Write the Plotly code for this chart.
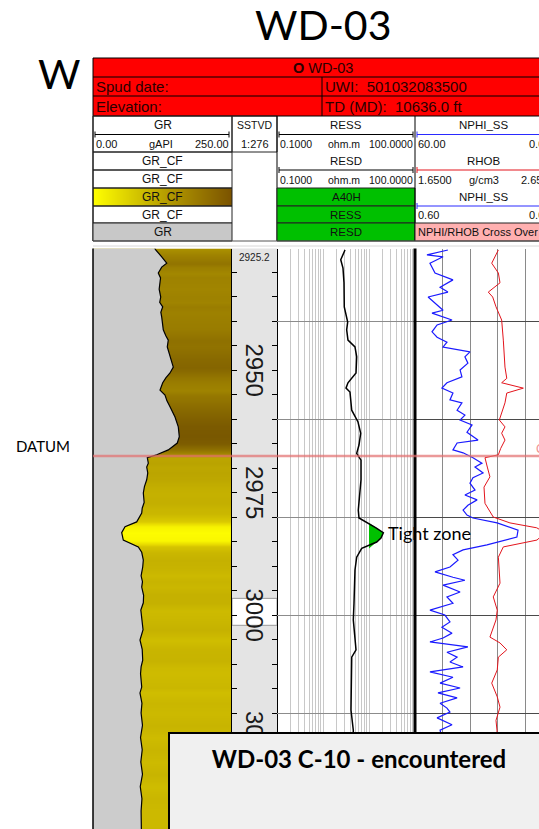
import plotly.graph_objects as go
import math

W, H = 539, 829

# ---------------- data ----------------
TRACK_TOP = 2925.2
TRACK_BOTTOM = 3043.67
GRID_DEPTHS = [2940, 2960, 2980, 3000, 3020, 3040]
DEPTH_LABELS = [2950, 2975, 3000, 3025]
DATUM_DEPTH = 2967.55
RES_CUTOFF = 10
CURSOR_DEPTHS = [2996.6, 3002.1]

GR_DEPTH = [2925.2, 2925.5, 2926.9, 2928.2, 2929.0, 2930.2, 2931.2, 2932.2, 2933.5, 2935.1,
            2936.2, 2937.1, 2938.2, 2939.2, 2940.5, 2941.8, 2943.0, 2943.9, 2945.3, 2946.5,
            2947.9, 2949.4, 2950.6, 2951.6, 2952.6, 2954.1, 2955.1, 2956.3, 2957.5, 2959.6,
            2961.6, 2963.6, 2964.9, 2966.3, 2967.3, 2967.9, 2969.0, 2969.8, 2971.0, 2972.4,
            2973.8, 2975.1, 2977.0, 2978.2, 2979.2, 2981.0, 2982.0, 2983.2, 2984.7, 2986.1,
            2987.2, 2988.8, 2990.2, 2992.0, 2993.2, 2994.3, 2996.0, 2997.5, 2999.0, 3001.0,
            3003.0, 3005.1, 3007.0, 3009.2, 3010.6, 3012.0, 3014.7, 3015.9, 3018.0, 3020.0,
            3022.5, 3025.0, 3027.5, 3030.0, 3032.5, 3035.0, 3037.5, 3040.0, 3043.7]
GR_VALUES = [111.0, 112.8, 123.6, 132.6, 123.6, 117.4, 121.5, 120.5, 119.0, 121.8,
             120.0, 125.4, 122.0, 123.6, 125.0, 126.4, 131.0, 135.4, 133.6, 137.0,
             141.5, 144.4, 138.5, 131.0, 125.4, 120.5, 129.5, 133.0, 138.5, 147.5,
             153.4, 155.2, 151.6, 135.4, 114.6, 97.7, 99.5, 96.6, 98.5, 96.6,
             92.5, 90.5, 92.0, 88.5, 87.6, 78.6, 57.6, 51.6, 54.5, 81.5,
             87.6, 90.5, 89.4, 86.5, 89.0, 87.6, 91.0, 90.5, 86.0, 87.6,
             90.0, 84.5, 88.5, 89.4, 86.5, 85.5, 87.6, 84.5, 88.0, 86.5,
             89.0, 85.5, 88.5, 86.0, 89.0, 85.0, 88.0, 86.5, 87.0]

RES_DEPTH = [2925.5, 2927.5, 2929.2, 2932.2, 2937.1, 2940.2, 2941.8, 2943.9, 2945.3, 2947.3,
             2950.6, 2952.6, 2953.7, 2954.5, 2958.2, 2960.6, 2962.9, 2965.3, 2967.0, 2968.4,
             2972.4, 2974.5, 2978.6, 2980.2, 2981.2, 2982.2, 2983.2, 2984.3, 2985.1, 2986.4,
             2988.2, 2990.8, 2997.6, 3001.0, 3007.1, 3008.6, 3019.4, 3023.5, 3032.0, 3043.7]
RES_VALUES = [3.01, 2.43, 2.72, 2.86, 2.90, 3.44, 3.27, 3.49, 4.96, 5.40,
              5.22, 3.49, 3.16, 3.86, 4.21, 5.77, 6.60, 6.06, 5.40, 6.70,
              6.70, 6.37, 5.85, 6.06, 9.51, 14.2, 20.5, 18.2, 14.7, 6.94,
              5.40, 4.96, 4.72, 4.56, 5.22, 4.21, 4.06, 4.56, 4.4, 4.5]

NPHI_DEPTH = [2925.5, 2926.5, 2926.9, 2928.2, 2930.2, 2931.6, 2933.1, 2934.1, 2935.1, 2936.3,
              2937.8, 2938.4, 2939.8, 2940.8, 2942.2, 2943.3, 2944.3, 2945.3, 2946.3, 2947.3,
              2948.6, 2950.0, 2951.4, 2952.6, 2953.7, 2954.7, 2956.1, 2956.7, 2958.2, 2959.2,
              2960.2, 2961.2, 2962.7, 2964.3, 2964.9, 2966.3, 2966.9, 2967.9, 2969.0, 2969.8,
              2971.0, 2972.0, 2973.1, 2974.5, 2975.5, 2976.5, 2977.6, 2978.6, 2979.6, 2980.2,
              2981.2, 2982.7, 2984.1, 2985.7, 2986.7, 2987.7, 2988.8, 2990.2, 2991.2, 2992.3,
              2992.9, 2993.9, 2995.3, 2996.3, 2997.6, 2999.0, 3000.0, 3001.4, 3002.5, 3003.7,
              3004.7, 3005.5, 3006.5, 3007.6, 3008.6, 3009.6, 3010.6, 3011.6, 3012.7, 3013.9,
              3014.9, 3015.9, 3016.9, 3018.0, 3019.0, 3019.8, 3021.0, 3022.4, 3023.5, 3030.0,
              3043.7]
NPHI_VALUES = [45.7, 54.8, 47.8, 53.5, 51.3, 43.5, 49.1, 45.7, 54.3, 51.3,
               47.8, 52.6, 43.9, 50.4, 52.6, 50.4, 46.1, 47.8, 36.1, 38.3,
               37.0, 40.4, 39.6, 46.1, 48.3, 43.5, 44.8, 39.6, 41.7, 38.3,
               40.4, 35.2, 37.4, 32.6, 41.7, 43.5, 39.1, 34.8, 30.9, 33.9,
               30.4, 34.8, 36.1, 33.9, 38.3, 33.0, 37.0, 39.1, 37.4, 34.8,
               24.3, 15.2, 15.7, 28.7, 39.1, 43.5, 41.3, 44.8, 51.3, 43.5,
               38.3, 47.8, 40.4, 46.1, 43.5, 53.5, 47.0, 44.8, 48.3, 43.9,
               47.8, 53.5, 37.0, 46.1, 41.7, 44.8, 39.1, 53.5, 43.5, 49.1,
               40.4, 50.0, 41.7, 49.1, 46.1, 44.8, 50.4, 43.9, 49.1, 46.0,
               48.0]

RHOB_DEPTH = [2925.5, 2928.2, 2930.2, 2932.2, 2934.1, 2935.1, 2937.1, 2939.8, 2943.9, 2949.4,
              2951.7, 2952.6, 2953.7, 2954.7, 2956.7, 2960.2, 2961.6, 2962.9, 2964.3, 2966.0,
              2967.3, 2967.9, 2969.8, 2971.8, 2973.9, 2977.2, 2980.0, 2981.2, 2982.2, 2983.2,
              2984.7, 2986.1, 2988.2, 2990.8, 2993.5, 2996.3, 2999.0, 3001.0, 3004.5, 3005.7,
              3007.1, 3008.6, 3011.2, 3013.9, 3016.7, 3018.8, 3021.5, 3023.5, 3032.0, 3043.7]
RHOB_VALUES = [2.254, 2.206, 2.254, 2.266, 2.181, 2.213, 2.237, 2.278, 2.290, 2.302,
               2.315, 2.278, 2.435, 2.315, 2.302, 2.261, 2.302, 2.278, 2.302, 2.271,
               2.254, 2.157, 2.174, 2.193, 2.150, 2.157, 2.217, 2.338, 2.532, 2.592,
               2.534, 2.290, 2.254, 2.261, 2.266, 2.217, 2.246, 2.237, 2.193, 2.266,
               2.315, 2.254, 2.246, 2.206, 2.246, 2.266, 2.237, 2.244, 2.25, 2.24]

GR_RANGE = [0, 250]
RES_RANGE = [0.1, 100]
NPHI_RANGE = [60, 0]
RHOB_RANGE = [1.65, 2.65]

# ---------------- layout helpers ----------------
def PX(x):
    return x / W


def PY(y):
    return 1 - y / H


TRACK_Y0 = 248.5
GR_X = (93, 232)
DEPTH_X = (232, 277)
RES_X = (277, 415)
NPHI_X = (415, 553)

# visible part of the NPHI track is clipped at the page edge
nphi_frac = (W - NPHI_X[0]) / (NPHI_X[1] - NPHI_X[0])
nphi_vis = [NPHI_RANGE[0], NPHI_RANGE[0] + (NPHI_RANGE[1] - NPHI_RANGE[0]) * nphi_frac]
rhob_vis = [RHOB_RANGE[0], RHOB_RANGE[0] + (RHOB_RANGE[1] - RHOB_RANGE[0]) * nphi_frac]

fig = go.Figure()

# GR colour fill (heatmap coloured by GR value)
gr_colorscale = [[0.0, "#ffff00"], [0.2, "#e6d800"], [0.364, "#c6b200"],
                 [0.636, "#a08400"], [1.0, "#745200"]]
fig.add_trace(go.Heatmap(
    x=[-10, 260], y=GR_DEPTH, z=[[v, v] for v in GR_VALUES],
    colorscale=gr_colorscale, zmin=50, zmax=160, zsmooth="best",
    showscale=False, hoverinfo="skip", xaxis="x", yaxis="y"))
# grey fill left of GR curve
fig.add_trace(go.Scatter(x=[GR_RANGE[0]] * len(GR_DEPTH), y=GR_DEPTH, mode="lines",
                         line=dict(width=0, color="#cccccc"), hoverinfo="skip",
                         xaxis="x", yaxis="y"))
fig.add_trace(go.Scatter(x=GR_VALUES, y=GR_DEPTH, mode="lines", fill="tonextx",
                         fillcolor="#cccccc", line=dict(color="black", width=1.2),
                         hoverinfo="skip", xaxis="x", yaxis="y"))

# resistivity tight-zone fill
idx = [i for i, v in enumerate(RES_VALUES) if v > RES_CUTOFF]
i0, i1 = max(idx[0] - 1, 0), min(idx[-1] + 1, len(RES_VALUES) - 1)
zone_d = RES_DEPTH[i0:i1 + 1]
zone_v = [max(v, RES_CUTOFF) for v in RES_VALUES[i0:i1 + 1]]
fig.add_trace(go.Scatter(x=[RES_CUTOFF] * len(zone_d), y=zone_d, mode="lines",
                         line=dict(width=0, color="#00c000"), hoverinfo="skip",
                         xaxis="x3", yaxis="y3"))
fig.add_trace(go.Scatter(x=zone_v, y=zone_d, mode="lines", fill="tonextx",
                         fillcolor="#00c000", line=dict(width=0, color="#00c000"),
                         hoverinfo="skip", xaxis="x3", yaxis="y3"))
fig.add_trace(go.Scatter(x=RES_VALUES, y=RES_DEPTH, mode="lines",
                         line=dict(color="black", width=1.5), hoverinfo="skip",
                         xaxis="x3", yaxis="y3"))

# NPHI / RHOB
fig.add_trace(go.Scatter(x=NPHI_VALUES, y=NPHI_DEPTH, mode="lines",
                         line=dict(color="#1a1aff", width=1.2), hoverinfo="skip",
                         xaxis="x4", yaxis="y4"))
fig.add_trace(go.Scatter(x=RHOB_VALUES, y=RHOB_DEPTH, mode="lines",
                         line=dict(color="#e3141c", width=1), hoverinfo="skip",
                         xaxis="x5", yaxis="y4"))

# header gradient cell (GR_CF colour bar)
grad_z = [[i / 20 for i in range(21)]]
fig.add_trace(go.Heatmap(z=grad_z, x=[i / 20 for i in range(21)], y=[0],
                         colorscale=[[0, "#ffff00"], [0.5, "#b8a000"], [1, "#7a5200"]],
                         zsmooth="best", showscale=False, hoverinfo="skip",
                         xaxis="x6", yaxis="y6"))

ydom = [0, PY(TRACK_Y0)]
yrange = [TRACK_BOTTOM, TRACK_TOP]
res_ticks = [m * 10 ** e for e in (-1, 0, 1) for m in range(1, 10)] + [100]
hidden = dict(showticklabels=False, ticks="", zeroline=False, showline=False)

fig.update_layout(
    width=W, height=H, margin=dict(l=0, r=0, t=0, b=0),
    paper_bgcolor="white", plot_bgcolor="rgba(0,0,0,0)", showlegend=False,
    hovermode=False,
    xaxis=dict(domain=[PX(GR_X[0]), PX(GR_X[1])], range=GR_RANGE, anchor="y",
               showgrid=False, **hidden),
    yaxis=dict(domain=ydom, range=yrange, anchor="x", showgrid=False, **hidden),
    xaxis2=dict(domain=[PX(DEPTH_X[0]), PX(DEPTH_X[1])], range=[0, 1], anchor="y2",
                showgrid=False, **hidden),
    yaxis2=dict(domain=ydom, range=yrange, anchor="x2", showgrid=False,
                showticklabels=False, ticks="inside", ticklen=5, tickwidth=1,
                tickcolor="black", tickmode="linear", tick0=2925, dtick=5,
                showline=True, linecolor="black", linewidth=1, mirror="ticks",
                zeroline=False),
    xaxis3=dict(domain=[PX(RES_X[0]), PX(RES_X[1])], type="log",
                range=[math.log10(RES_RANGE[0]), math.log10(RES_RANGE[1])],
                anchor="y3", tickmode="array", tickvals=res_ticks, showgrid=True,
                gridcolor="#c8c8c8", gridwidth=1.2, **hidden),
    yaxis3=dict(domain=ydom, range=yrange, anchor="x3", tickmode="array",
                tickvals=GRID_DEPTHS, showgrid=True, gridcolor="#8c8c8c",
                gridwidth=1.3, **hidden),
    xaxis4=dict(domain=[PX(NPHI_X[0]), 1], range=nphi_vis, anchor="y4",
                tickmode="linear", tick0=0, dtick=12, showgrid=True,
                gridcolor="#8a8a8a", gridwidth=1.3, **hidden),
    yaxis4=dict(domain=ydom, range=yrange, anchor="x4", tickmode="array",
                tickvals=GRID_DEPTHS, showgrid=True, gridcolor="#4a4a4a",
                gridwidth=1.4, **hidden),
    xaxis5=dict(domain=[PX(NPHI_X[0]), 1], range=rhob_vis, anchor="y4",
                overlaying="x4", showgrid=False, **hidden),
    xaxis6=dict(domain=[PX(GR_X[0]), PX(GR_X[1])], range=[0, 1], anchor="y6",
                showgrid=False, **hidden),
    yaxis6=dict(domain=[PY(206), PY(188)], range=[-0.5, 0.5], anchor="x6",
                showgrid=False, **hidden),
)

shapes = []


def rect(x0, y0, x1, y1, fill=None, line="#222222", lw=1, layer="above"):
    shapes.append(dict(type="rect", xref="paper", yref="paper",
                       x0=PX(x0), x1=PX(x1), y0=PY(y0), y1=PY(y1),
                       fillcolor=fill or "rgba(0,0,0,0)",
                       line=dict(color=line, width=lw) if line else dict(width=0),
                       layer=layer))


def hline(x0, x1, y, color="black", lw=1):
    shapes.append(dict(type="line", xref="paper", yref="paper", x0=PX(x0), x1=PX(x1),
                       y0=PY(y), y1=PY(y), line=dict(color=color, width=lw)))


def vline(x, y0, y1, color="black", lw=1):
    shapes.append(dict(type="line", xref="paper", yref="paper", x0=PX(x), x1=PX(x),
                       y0=PY(y0), y1=PY(y1), line=dict(color=color, width=lw)))


# depth track background and cursor box
shapes.append(dict(type="rect", xref="x2 domain", yref="y2 domain", x0=0, x1=1, y0=0, y1=1,
                   fillcolor="#e4e4e4", line=dict(width=0), layer="below"))
shapes.append(dict(type="rect", xref="x2 domain", yref="y2", x0=0, x1=1,
                   y0=CURSOR_DEPTHS[0], y1=CURSOR_DEPTHS[1], fillcolor="white",
                   line=dict(color="#9a9a9a", width=1), layer="below"))

# header: red block
rect(93, 58, 560, 116, fill="#ff0000", line=None)
for y in (58, 77, 96, 116):
    hline(93, 560, y)
vline(322, 77, 116)
vline(93, 58, 241)
# GR column cells
rect(93, 116, 232, 152)
rect(93, 152, 232, 170)
rect(93, 170, 232, 188)
rect(93, 206, 232, 223)
rect(93, 223, 232, 241, fill="#c8c8c8")
rect(93, 188, 232, 206)
rect(232, 116, 277, 152)
# RES column
vline(277, 116, 241)
rect(277, 188, 415, 206, fill="#00c000")
rect(277, 206, 415, 223, fill="#00c000")
rect(277, 223, 415, 241, fill="#00c000")
# NPHI column
vline(415, 116, 241)
rect(415, 223, 560, 241, fill="#ffb0b0")
hline(93, 560, 241, color="#555555")
# scale lines
hline(95, 229, 134.5)
vline(95, 131.5, 137.5)
vline(229, 131.5, 137.5)
hline(279, 413, 134.5)
vline(279, 131.5, 137.5)
vline(413, 131.5, 137.5)
hline(279, 413, 170)
vline(279, 167, 173)
vline(413, 167, 173)
hline(417, 560, 134.5, color="#2a2aff")
vline(417, 131.5, 137.5, color="#2a2aff")
hline(417, 560, 170, color="#e3141c")
vline(417, 167, 173, color="#e3141c")
hline(417, 560, 206, color="#2a2aff")
vline(417, 203, 209, color="#2a2aff")

# track borders
vline(93, TRACK_Y0, H, lw=1.5)
vline(415, TRACK_Y0, H, lw=3)
hline(93, 560, 246, color="#d8d8d8", lw=1)

# datum line
shapes.append(dict(type="line", xref="paper", yref="y", x0=PX(93), x1=1,
                   y0=DATUM_DEPTH, y1=DATUM_DEPTH,
                   line=dict(color="rgba(226,110,110,0.7)", width=2.5)))

fig.update_layout(shapes=shapes)

ann = []
HF = "Liberation Sans, Arial, sans-serif"
CF = "Lato, Carlito, sans-serif"


def txt(x, y, s, size=11, xa="center", color="#111111", family=HF, **kw):
    ann.append(dict(x=PX(x), y=PY(y), xref="paper", yref="paper", text=s, showarrow=False,
                    xanchor=xa, yanchor="middle", font=dict(size=size, color=color,
                                                            family=family), **kw))


# titles
txt(323, 24, "WD-03", size=41, family=CF, color="black")
txt(59, 73, "W", size=41, family=CF, color="black")
txt(43, 446, "DATUM", size=15, family=CF, color="black")

# red header text
RC = "#2a0000"
txt(323, 67.5, "<b>O</b> WD-03", size=14.5, color=RC)
txt(94, 86.5, "Spud date:", size=15, xa="left", color=RC)
txt(94, 106, "Elevation:", size=15, xa="left", color=RC)
txt(323, 86.5, "UWI:&nbsp; 501032083500", size=15, xa="left", color=RC)
txt(323, 106, "TD (MD):&nbsp; 10636.0 ft", size=15, xa="left", color=RC)

# GR column
txt(162.5, 125, "GR", size=12)
txt(94, 144, "0.00", size=11, xa="left")
txt(161, 144, "gAPI", size=11)
txt(231, 144, "250.00", size=11, xa="right")
for yy in (161, 179, 197, 214.5):
    txt(162.5, yy, "GR_CF", size=12)
txt(162.5, 232, "GR", size=12)
# SSTVD column
txt(254.5, 125, "SSTVD", size=10.5)
txt(254.5, 144, "1:276", size=11)
# RES column
txt(346, 125, "RESS", size=11.5)
txt(278, 144, "0.1000", size=10.5, xa="left")
txt(344, 144, "ohm.m", size=10.5)
txt(415, 144, "100.0000", size=10.5, xa="right")
txt(346, 161, "RESD", size=11.5)
txt(278, 180, "0.1000", size=10.5, xa="left")
txt(344, 180, "ohm.m", size=10.5)
txt(415, 180, "100.0000", size=10.5, xa="right")
txt(346, 197, "A40H", size=11.5)
txt(346, 214.5, "RESS", size=11.5)
txt(346, 232, "RESD", size=11.5)
# NPHI column
txt(484, 125, "NPHI_SS", size=11.5)
txt(416, 144, "60.00", size=11, xa="left")
txt(552, 144, "0.00", size=11, xa="right")
txt(484, 161, "RHOB", size=11.5)
txt(416, 180, "1.6500", size=11, xa="left")
txt(484, 180, "g/cm3", size=11)
txt(557, 180, "2.6500", size=11, xa="right")
txt(484, 197, "NPHI_SS", size=11.5)
txt(416, 215, "0.60", size=11, xa="left")
txt(552, 215, "0.00", size=11, xa="right")
txt(416, 232, "NPHI/RHOB Cross Over", size=11, xa="left")

# depth track labels
ann.append(dict(x=0.5, y=TRACK_TOP, xref="x2", yref="y2", text="2925.2", showarrow=False,
                yanchor="top", xanchor="center", yshift=-2,
                font=dict(size=10, color="#222222", family=HF)))
for d in DEPTH_LABELS:
    ann.append(dict(x=0.5, y=d, xref="x2", yref="y2", text=str(d), showarrow=False,
                    textangle=90, xanchor="center", yanchor="middle",
                    font=dict(size=24, color="#1a1a1a", family=HF)))

# tight zone / C-10 labels
ann.append(dict(x=PX(386), y=2983.3, xref="paper", yref="y", text="Tight zone",
                showarrow=False, xanchor="left", yanchor="middle",
                font=dict(size=18, color="black", family=CF)))
ann.append(dict(x=PX(534), y=DATUM_DEPTH - 1.4, xref="paper", yref="y", text="C-10",
                showarrow=False, xanchor="left", yanchor="middle",
                font=dict(size=12, color="#ef9090", family=HF)))

# bottom callout box
ann.append(dict(x=PX(168), y=PY(732), xref="paper", yref="paper",
                text="<b>WD-03 C-10 - encountered</b>", showarrow=False,
                xanchor="left", yanchor="top", align="center", valign="top",
                width=358, height=110, bgcolor="#f0f0f0", bordercolor="black",
                borderwidth=2, borderpad=10,
                font=dict(size=24, color="black", family=CF)))

fig.update_layout(annotations=ann)
fig.write_html("out.html", config={"displayModeBar": False},
               post_script="document.body.style.margin='0px';"
                           "document.body.style.overflow='hidden';")
